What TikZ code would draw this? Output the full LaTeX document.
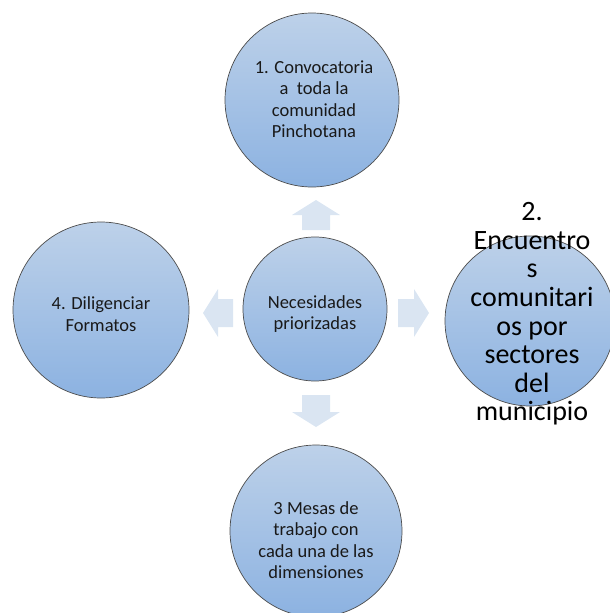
\documentclass[tikz,border=0pt]{standalone}
\usepackage{fontspec}
\setmainfont{Carlito}
\begin{document}
\begin{tikzpicture}[x=1pt,y=-1pt,
  bubble/.style={circle,draw=black!70,line width=0.7pt,inner sep=0pt,
    top color=bubtop,bottom color=bubbot,shading angle=0},
  txt/.style={align=center,text=black!90,font=\fontsize{18.5}{21.5}\selectfont},
  bigtxt/.style={align=center,text=black,font=\fontsize{28}{28.6}\selectfont},
  blockarrow/.style={fill=arrowfill,draw=none}]
\definecolor{bubtop}{HTML}{BDD1E9}
\definecolor{bubbot}{HTML}{8CB2E1}
\definecolor{arrowfill}{HTML}{DAE5F2}
\useasboundingbox (0,0) rectangle (610,613);
\begin{scope}
\clip (0,0) rectangle (610,613);
% circles
\node[bubble,minimum size=174pt] (n1) at (312,100) {};
\node[bubble,minimum size=144pt] (n0) at (315,309) {};
\node[bubble,minimum size=176pt] (n4) at (101,310) {};
\node[bubble,minimum size=170pt] (n2) at (530,321) {};
\node[bubble,minimum size=172pt] (n3) at (316,531) {};
% texts
\node[txt] (t1) at (314,99) {1. Convocatoria\\a\ \ toda la\\comunidad\\Pinchotana};
\node[txt] (t0) at (315,314) {Necesidades\\priorizadas};
\node[txt] (t4) at (101,314) {4. Diligenciar\\Formatos};
\node[txt] (t3) at (316,540) {3 Mesas de\\trabajo con\\cada una de las\\dimensiones};
\node[bigtxt] (t2) at (532,314) {2.\\Encuentro\\s\\comunitari\\os por\\sectores\\del\\municipio};
\end{scope}
% block arrows
\coordinate (au) at (316,215);
\coordinate (ad) at (316,411);
\coordinate (al) at (218,313);
\coordinate (ar) at (413,313);
\fill[blockarrow] ([shift={(-14,15)}]au) -- ([shift={(-14,0)}]au) -- ([shift={(-24,0)}]au) -- ([shift={(0,-15)}]au) -- ([shift={(24,0)}]au) -- ([shift={(14,0)}]au) -- ([shift={(14,15)}]au) -- cycle;
\fill[blockarrow] ([shift={(-14,-16)}]ad) -- ([shift={(-14,1)}]ad) -- ([shift={(-24,1)}]ad) -- ([shift={(0,16)}]ad) -- ([shift={(24,1)}]ad) -- ([shift={(14,1)}]ad) -- ([shift={(14,-16)}]ad) -- cycle;
\fill[blockarrow] ([shift={(15,-14)}]al) -- ([shift={(0,-14)}]al) -- ([shift={(0,-24)}]al) -- ([shift={(-15,0)}]al) -- ([shift={(0,24)}]al) -- ([shift={(0,14)}]al) -- ([shift={(15,14)}]al) -- cycle;
\fill[blockarrow] ([shift={(-15,-14)}]ar) -- ([shift={(1,-14)}]ar) -- ([shift={(1,-24)}]ar) -- ([shift={(16,0)}]ar) -- ([shift={(1,24)}]ar) -- ([shift={(1,14)}]ar) -- ([shift={(-15,14)}]ar) -- cycle;
\end{tikzpicture}
\end{document}
